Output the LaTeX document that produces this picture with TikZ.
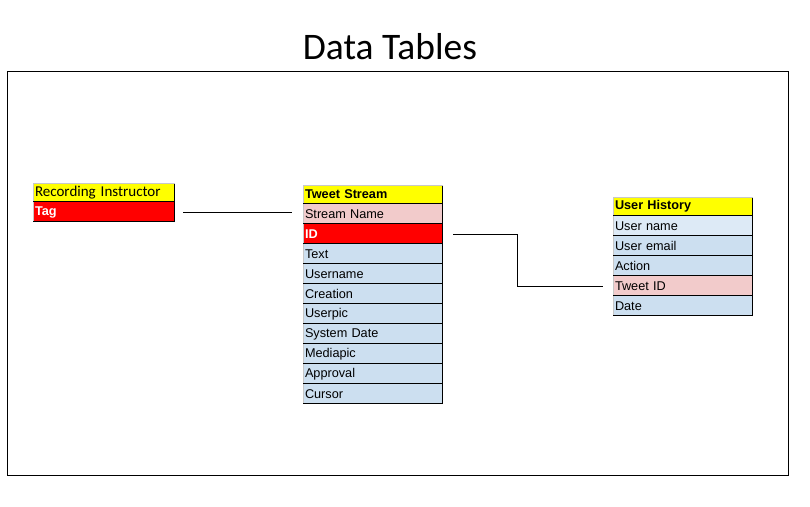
\documentclass[tikz,border=0pt]{standalone}
\usepackage{fontspec}
\setmainfont{Liberation Sans}
\newfontfamily\calibri{Carlito}
\usetikzlibrary{positioning}
\definecolor{hdyellow}{HTML}{FFFF00}
\definecolor{keyred}{HTML}{FF0000}
\definecolor{fkpink}{HTML}{F2CBCB}
\definecolor{rowblue}{HTML}{CCDFF0}
\definecolor{rowlight}{HTML}{DDEAF6}
\definecolor{edgegrey}{HTML}{C8C8C8}
\tikzset{
  cell/.style={rectangle, minimum width=140pt, minimum height=20pt,
    text width=136pt, inner xsep=2pt, inner ysep=0pt, outer sep=0pt, align=left,
    font=\fontsize{12.7}{12.7}\selectfont, fill=rowblue,
    append after command={
      ([xshift=0.5pt]\tikzlastnode.north west) edge[draw=edgegrey, line width=1pt] ([xshift=0.5pt]\tikzlastnode.south west)
      ([yshift=0.5pt]\tikzlastnode.south west) edge[draw=black, line width=1pt] ([yshift=0.5pt]\tikzlastnode.south east)
      ([xshift=-0.5pt]\tikzlastnode.south east) edge[draw=black, line width=1pt] ([xshift=-0.5pt]\tikzlastnode.north east)}},
  head/.style={cell, fill=hdyellow, font=\fontsize{12.7}{12.7}\selectfont\bfseries,
    minimum height=19pt,
    append after command={
      ([yshift=-0.5pt]\tikzlastnode.north west) edge[draw=edgegrey, line width=1pt] ([yshift=-0.5pt]\tikzlastnode.north east)}},
  key/.style={cell, fill=keyred, text=white, font=\fontsize{12.7}{12.7}\selectfont\bfseries},
  fk/.style={cell, fill=fkpink},
  wide/.style={minimum width=142pt, text width=138pt},
  link/.style={draw=black, line width=1pt}
}
\begin{document}
\begin{tikzpicture}[x=1pt, y=-1pt, node distance=0pt]
  \useasboundingbox (0,0) rectangle (810,506);
  \node (title) at (390,47) {\calibri\fontsize{37.5}{37.5}\selectfont Data Tables};
  \draw[line width=1pt] (7,71) rectangle (788,475);
  % Recording Instructor
  \node[head, wide, anchor=north west, font=\calibri\fontsize{15}{15}\selectfont] (ri) at (33,183) {Recording Instructor};
  \node[key, wide, below=of ri] (tag) {Tag};
  % Tweet Stream
  \node[head, anchor=north west] (ts) at (303,185) {Tweet Stream};
  \node[fk, below=of ts] (sname) {Stream Name};
  \node[key, below=of sname] (id) {ID};
  \node[cell, below=of id] (text) {Text};
  \node[cell, below=of text] (uname) {Username};
  \node[cell, below=of uname] (creation) {Creation};
  \node[cell, below=of creation] (upic) {Userpic};
  \node[cell, below=of upic] (sdate) {System Date};
  \node[cell, below=of sdate] (mpic) {Mediapic};
  \node[cell, below=of mpic] (approval) {Approval};
  \node[cell, below=of approval] (cursor) {Cursor};
  % User History
  \node[head, anchor=north west] (uh) at (613,197) {User History};
  \node[cell, fill=rowlight, below=of uh] (huser) {User name};
  \node[cell, below=of huser] (hemail) {User email};
  \node[cell, below=of hemail] (haction) {Action};
  \node[fk, below=of haction] (htid) {Tweet ID};
  \node[cell, below=of htid] (hdate) {Date};
  % links
  \draw[link] ([xshift=8pt]tag.east) -- ([xshift=-11pt]sname.west |- tag.east);
  \draw[link] ([xshift=10pt]id.east) -- ++(64,0) |- ([xshift=-10pt]htid.west);
\end{tikzpicture}
\end{document}
